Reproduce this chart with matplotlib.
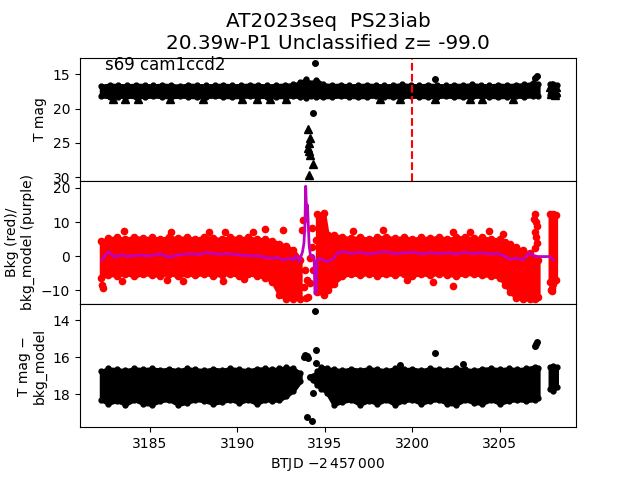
import numpy as np
import matplotlib
matplotlib.use('Agg')
import matplotlib.pyplot as plt

# ---- top panel: T mag (dense band + upper limits) ----
top_t = [3182.2, 3182.7, 3183.2, 3183.7, 3184.2, 3184.7, 3185.2, 3185.7, 3186.2, 3186.7,
         3187.2, 3187.7, 3188.2, 3188.7, 3189.2, 3189.7, 3190.2, 3190.7, 3191.2, 3191.7,
         3192.2, 3192.7, 3193.2, 3193.6, 3193.9, 3194.2, 3194.5, 3194.9, 3195.4, 3195.9,
         3196.4, 3196.9, 3197.4, 3197.9, 3198.4, 3198.9, 3199.4, 3199.9, 3200.4, 3200.9,
         3201.4, 3201.9, 3202.4, 3202.9, 3203.4, 3203.9, 3204.4, 3204.9, 3205.4, 3205.9,
         3206.4, 3206.9, 3207.2]
top_hi = [16.7, 16.55, 16.6, 16.65, 16.55, 16.6, 16.65, 16.55, 16.6, 16.7,
          16.55, 16.6, 16.65, 16.6, 16.55, 16.65, 16.6, 16.55, 16.6, 16.65,
          16.6, 16.55, 16.5, 16.2, 15.7, 16.3, 15.8, 16.5, 16.6, 16.55,
          16.65, 16.6, 16.55, 16.6, 16.65, 16.6, 16.5, 16.6, 16.65, 16.55,
          16.6, 16.65, 16.55, 16.6, 16.5, 16.6, 16.65, 16.55, 16.6, 16.55,
          16.5, 16.3, 16.5]
top_lo = [18.2, 18.35, 18.3, 18.25, 18.35, 18.3, 18.25, 18.3, 18.35, 18.25,
          18.3, 18.35, 18.3, 18.25, 18.3, 18.35, 18.3, 18.25, 18.3, 18.3,
          18.35, 18.3, 18.25, 18.3, 18.4, 18.2, 18.3, 18.35, 18.3, 18.25,
          18.3, 18.35, 18.3, 18.25, 18.3, 18.35, 18.3, 18.25, 18.3, 18.35,
          18.3, 18.25, 18.3, 18.35, 18.3, 18.25, 18.3, 18.35, 18.3, 18.25,
          18.3, 18.2, 18.2]
top_t3 = [3207.85, 3208.05, 3208.25]
top_hi3 = [16.5, 16.45, 16.55]
top_lo3 = [18.1, 18.15, 18.05]

uplim_t = [3182.9, 3183.57, 3184.33, 3186.14, 3188.05, 3190.24, 3191.1, 3191.86, 3192.8,
           3198.14, 3199.29, 3201.29, 3203.29, 3203.95, 3205.76,
           3194.05, 3194.14, 3194.1, 3194.05, 3194.1, 3194.14, 3194.3, 3194.1,
           3207.85, 3207.95, 3208.1, 3208.2, 3207.9, 3208.15, 3208.0, 3208.2]
uplim_mag = [18.6, 18.65, 18.6, 18.6, 18.65, 18.6, 18.6, 18.65, 18.6,
             18.6, 18.65, 18.6, 18.6, 18.65, 18.6,
             23.0, 24.3, 25.0, 25.7, 26.2, 26.7, 28.1, 29.7,
             16.8, 17.2, 17.0, 17.6, 17.9, 18.1, 16.6, 16.9]

det_t = [3194.3, 3194.43, 3201.3, 3207.1, 3207.0]
det_mag = [20.6, 13.4, 15.7, 15.25, 15.6]

# ---- middle panel: background (red) and model (purple) ----
seg1_t = [3182.2, 3182.6, 3183.1, 3183.6, 3184.1, 3184.6, 3185.1, 3185.6, 3186.1, 3186.6,
          3187.1, 3187.6, 3188.1, 3188.6, 3189.1, 3189.6, 3190.1, 3190.6, 3191.1, 3191.6,
          3192.0, 3192.4, 3192.8, 3193.2, 3193.6]
bkg_hi1 = [4.5, 5.2, 5.5, 5.0, 5.7, 5.2, 5.5, 5.0, 5.7, 5.2,
           5.6, 5.0, 5.7, 5.3, 5.0, 5.6, 5.2, 5.5, 5.0, 5.0,
           4.6, 3.7, 3.0, 1.8, -1.0]
bkg_lo1 = [-6.3, -5.4, -5.7, -5.1, -5.9, -5.2, -5.5, -5.7, -5.1, -5.9,
           -5.3, -5.6, -5.1, -5.7, -5.4, -5.2, -5.8, -5.3, -5.7, -6.3,
           -7.5, -11.5, -12.4, -12.4, -12.4]

bkg_t2 = [3194.55, 3194.95, 3195.15, 3195.5, 3196.0, 3196.5, 3197.0, 3197.5, 3198.0, 3198.5,
          3199.0, 3199.5, 3200.0, 3200.5, 3201.0, 3201.5, 3202.0, 3202.5, 3203.0, 3203.5,
          3204.0, 3204.5, 3205.0, 3205.3, 3205.6, 3205.9, 3206.3, 3206.7, 3207.0, 3207.2]
bkg_hi2 = [12.3, 12.6, 6.2, 6.2, 5.7, 5.2, 5.6, 5.0, 5.5, 5.7,
           5.2, 5.6, 5.0, 5.5, 5.2, 5.7, 5.0, 5.5, 5.6, 5.2,
           5.5, 5.0, 5.0, 4.3, 3.6, 2.6, 1.8, 0.8, -0.5, -1.0]
bkg_lo2 = [-10.5, -11.3, -10.0, -8.0, -5.8, -5.2, -5.6, -5.1, -5.7, -5.3,
           -5.5, -5.1, -5.7, -5.2, -5.6, -5.1, -5.5, -5.7, -5.2, -5.3,
           -5.6, -5.7, -6.3, -8.5, -10.5, -12.2, -12.6, -12.6, -12.6, -12.0]

bkg_t3 = [3207.85, 3208.05, 3208.2]
bkg_hi3 = [12.3, 12.5, 12.0]
bkg_lo3 = [-7.5, -8.0, -7.0]

bkg_out_t = [3182.25, 3182.3, 3183.5, 3186.2, 3188.4, 3189.3, 3190.9, 3191.6, 3192.6,
             3183.4, 3185.95, 3186.9, 3189.2, 3190.4,
             3196.6, 3198.3, 3202.3, 3203.3, 3204.4, 3205.2, 3201.2, 3199.7, 3202.3,
             3193.67, 3193.76, 3193.86, 3193.95, 3194.14, 3194.05, 3194.24, 3194.24,
             3194.14, 3194.33, 3194.5, 3193.8, 3193.9,
             3207.0, 3206.95, 3207.05, 3207.1, 3207.0, 3207.05, 3207.1, 3207.0,
             3207.95, 3208.0, 3207.9]
bkg_out = [-8.3, -9.3, 7.5, 7.0, 7.2, 7.2, 7.0, 8.0, 7.8,
           -7.4, -6.9, -7.2, -7.2, -6.8,
           7.5, 7.7, 7.2, 7.1, 7.4, 6.6, -7.6, -7.0, -8.7,
           7.7, 10.7, -4.0, -7.0, -7.9, -11.9, 8.2, 2.8,
           -0.6, -4.0, 4.8, -9.0, -12.3,
           12.3, 11.0, 10.0, 9.0, 7.0, 5.5, 4.0, 2.5,
           -9.3, -10.3, -9.8]

model_t = [3182.24, 3182.62, 3183.0, 3183.29, 3183.7, 3184.43, 3185.0, 3185.57, 3186.1, 3186.6,
           3187.3, 3187.8, 3188.2, 3188.8, 3189.6, 3190.2, 3190.7, 3191.3, 3191.86, 3192.3,
           3192.6, 3193.0, 3193.2, 3193.35, 3193.53, 3193.72, 3193.8, 3193.86, 3193.9, 3193.95,
           3194.0, 3194.1, 3194.18, 3194.3, 3194.38, 3194.43, 3194.5, 3194.55, 3194.7, 3195.1,
           3195.4, 3195.76, 3196.05, 3196.5, 3197.0, 3197.5, 3198.0, 3198.5, 3199.0, 3199.5,
           3200.0, 3200.5, 3201.0, 3201.5, 3202.0, 3202.5, 3203.0, 3203.5, 3204.0, 3204.5,
           3204.8, 3205.2, 3205.57, 3206.0, 3206.3, 3206.5, 3206.7, 3206.9, 3207.1, 3207.86,
           3208.05]
model = [-1.1, 1.35, -0.3, 0.4, 0.0, 0.3, 0.1, 0.7, -0.3, 0.4,
         0.7, 0.5, 1.1, 0.6, 0.7, 0.3, 0.2, 0.0, -0.6, -0.4,
         -1.1, -0.6, -1.1, 0.1, -1.6, 1.35, 3.8, 9.7, 20.5, 13.0,
         15.0, 3.0, -0.1, 0.3, -0.2, -11.0, -10.5, -1.1, -0.6, -1.6,
         -1.1, 1.1, 1.35, 0.8, 1.2, 0.6, 1.1, 1.3, 0.7, 1.0,
         1.2, 0.7, 1.0, 0.8, 1.0, 0.7, 1.1, 0.8, 1.0, 0.6,
         0.9, 0.2, -0.9, -0.6, -1.1, 0.0, 1.1, 0.2, -0.1, -0.1,
         -1.1]

# ---- bottom panel: T mag - bkg_model ----
sub_hi1 = [16.75, 16.6, 16.65, 16.7, 16.6, 16.65, 16.6, 16.68, 16.62, 16.7,
           16.6, 16.65, 16.7, 16.62, 16.68, 16.6, 16.65, 16.7, 16.62, 16.6,
           16.65, 16.6, 16.55, 16.6, 16.85]
sub_lo1 = [18.3, 18.5, 18.35, 18.55, 18.3, 18.5, 18.55, 18.35, 18.3, 18.55,
           18.45, 18.3, 18.35, 18.5, 18.4, 18.3, 18.45, 18.3, 18.5, 18.3,
           18.35, 18.3, 18.1, 17.8, 17.3]
sub_t2 = [3194.3, 3194.55, 3194.8, 3195.1, 3195.5, 3196.0, 3196.5, 3197.0, 3197.5, 3198.0,
          3198.5, 3199.0, 3199.5, 3200.0, 3200.5, 3201.0, 3201.5, 3202.0, 3202.5, 3203.0,
          3203.5, 3204.0, 3204.5, 3205.0, 3205.5, 3206.0, 3206.5, 3207.0, 3207.2]
sub_hi2 = [17.0, 16.75, 16.5, 16.6, 16.65, 16.7, 16.62, 16.68, 16.6, 16.65,
           16.7, 16.6, 16.65, 16.62, 16.7, 16.6, 16.65, 16.68, 16.6, 16.65,
           16.7, 16.62, 16.6, 16.65, 16.6, 16.65, 16.6, 16.5, 16.6]
sub_lo2 = [17.2, 17.5, 17.7, 17.9, 18.55, 18.4, 18.3, 18.55, 18.35, 18.5,
           18.3, 18.55, 18.35, 18.3, 18.5, 18.35, 18.3, 18.5, 18.55, 18.3,
           18.45, 18.5, 18.3, 18.5, 18.35, 18.3, 18.35, 18.3, 18.2]
sub_t3 = [3207.85, 3208.05, 3208.25]
sub_hi3 = [16.5, 16.45, 16.55]
sub_lo3 = [17.7, 17.8, 17.6]

sub_out_t = [3193.86, 3193.8, 3194.05, 3194.0, 3194.5, 3194.5, 3194.14, 3194.33, 3193.95,
             3194.24, 3194.45, 3199.29, 3201.29, 3202.9, 3207.1, 3207.0, 3207.05]
sub_out = [15.88, 16.0, 16.05, 15.95, 15.6, 16.3, 17.04, 17.94, 19.19,
           19.4, 13.5, 16.41, 15.78, 16.38, 15.16, 15.39, 15.3]


def band(ax, t, hi, lo, color, ms):
  ax.fill_between(t, lo, hi, color=color, lw=2.5, edgecolor=color)
  ax.plot(t, hi, 'o', color=color, ms=ms)
  ax.plot(t, lo, 'o', color=color, ms=ms)


fig, axes = plt.subplots(3, 1, sharex=True, figsize=(6.4, 4.8), dpi=100)
fig.subplots_adjust(hspace=0)
ax0, ax1, ax2 = axes

# top
band(ax0, top_t, top_hi, top_lo, 'k', 3.5)
band(ax0, top_t3, top_hi3, top_lo3, 'k', 3.5)
ax0.plot(uplim_t, uplim_mag, '^', color='k', ms=6)
ax0.plot(det_t, det_mag, 'o', color='k', ms=4)
ax0.axvline(3200, color='r', ls='--', lw=1.5)
ax0.set_ylim(30.5, 12.6)
ax0.set_yticks([15, 20, 25, 30])
ax0.set_ylabel('T mag')
ax0.text(0.05, 0.9, 's69 cam1ccd2', transform=ax0.transAxes, fontsize=12)
ax0.set_title('AT2023seq  PS23iab\n20.39w-P1 Unclassified z= -99.0', fontsize=14.4)

# middle
band(ax1, seg1_t, bkg_hi1, bkg_lo1, 'r', 4.5)
band(ax1, bkg_t2, bkg_hi2, bkg_lo2, 'r', 4.5)
band(ax1, bkg_t3, bkg_hi3, bkg_lo3, 'r', 4.5)
ax1.plot(bkg_out_t, bkg_out, 'o', color='r', ms=4.5)
ax1.plot(model_t, model, '-', color='m', lw=2)
ax1.set_ylim(-14.0, 22.1)
ax1.set_yticks([-10, 0, 10, 20])
ax1.set_ylabel('Bkg (red)/\nbkg_model (purple)')

# bottom
band(ax2, seg1_t, sub_hi1, sub_lo1, 'k', 3.5)
band(ax2, sub_t2, sub_hi2, sub_lo2, 'k', 3.5)
band(ax2, sub_t3, sub_hi3, sub_lo3, 'k', 3.5)
ax2.plot(sub_out_t, sub_out, 'o', color='k', ms=4)
ax2.set_ylim(19.76, 13.14)
ax2.set_yticks([14, 16, 18])
ax2.set_ylabel('T mag \u2212\nbkg_model')
ax2.set_xlim(3181.0, 3209.35)
ax2.set_xticks([3185, 3190, 3195, 3200, 3205])
ax2.set_xlabel(r'BTJD $-2\,457\,000$')

plt.savefig('out.png', dpi=100)
